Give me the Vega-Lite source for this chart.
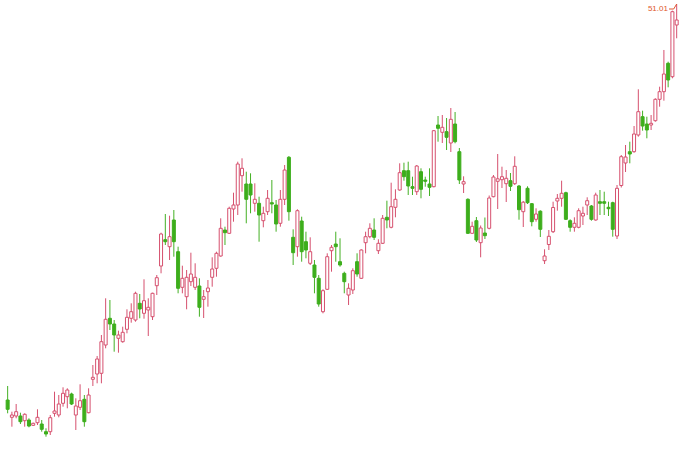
{
"$schema": "https://vega.github.io/schema/vega-lite/v6.json",
"width": 700, "height": 449, "padding": 0,
"autosize": {"type": "fit", "contains": "padding"},
"background": "white",
"config": {"view": {"stroke": null}},
"data": {"values": [
{"i":0,"o":11.41,"h":12.81,"l":10.08,"c":10.48},
{"i":1,"o":9.68,"h":10.24,"l":8.74,"c":9.91},
{"i":2,"o":9.81,"h":11.01,"l":9.58,"c":10.24},
{"i":3,"o":9.81,"h":10.14,"l":9.01,"c":9.24},
{"i":4,"o":9.34,"h":10.08,"l":8.74,"c":9.98},
{"i":5,"o":9.41,"h":9.58,"l":8.68,"c":8.81},
{"i":6,"o":8.88,"h":9.14,"l":8.81,"c":9.08},
{"i":7,"o":9.14,"h":10.48,"l":8.91,"c":9.68},
{"i":8,"o":9.01,"h":9.41,"l":8.24,"c":8.48},
{"i":9,"o":8.24,"h":8.58,"l":7.74,"c":8.01},
{"i":10,"o":8.24,"h":9.91,"l":7.91,"c":9.64},
{"i":11,"o":10.08,"h":12.24,"l":9.74,"c":10.31},
{"i":12,"o":9.91,"h":11.91,"l":9.68,"c":11.01},
{"i":13,"o":11.08,"h":12.68,"l":10.74,"c":12.08},
{"i":14,"o":11.74,"h":12.58,"l":10.58,"c":12.41},
{"i":15,"o":12.01,"h":12.14,"l":10.91,"c":11.01},
{"i":16,"o":9.91,"h":11.58,"l":8.41,"c":10.81},
{"i":17,"o":10.68,"h":12.98,"l":10.41,"c":11.34},
{"i":18,"o":11.48,"h":11.91,"l":8.74,"c":9.24},
{"i":19,"o":10.14,"h":12.58,"l":10.08,"c":11.91},
{"i":20,"o":13.48,"h":14.91,"l":12.81,"c":13.68},
{"i":21,"o":14.01,"h":15.81,"l":13.08,"c":15.51},
{"i":22,"o":14.08,"h":17.91,"l":13.08,"c":17.24},
{"i":23,"o":16.91,"h":21.58,"l":16.58,"c":19.48},
{"i":24,"o":19.58,"h":21.41,"l":18.41,"c":19.01},
{"i":25,"o":19.01,"h":19.41,"l":16.24,"c":17.91},
{"i":26,"o":17.58,"h":18.34,"l":16.14,"c":17.91},
{"i":27,"o":17.24,"h":18.74,"l":17.14,"c":18.18},
{"i":28,"o":18.48,"h":20.48,"l":18.08,"c":19.68},
{"i":29,"o":19.58,"h":21.08,"l":19.14,"c":20.24},
{"i":30,"o":19.41,"h":22.24,"l":19.24,"c":22.08},
{"i":31,"o":21.08,"h":22.01,"l":19.58,"c":20.51},
{"i":32,"o":20.08,"h":23.48,"l":19.54,"c":21.34},
{"i":33,"o":20.41,"h":21.58,"l":17.81,"c":20.68},
{"i":34,"o":19.74,"h":22.14,"l":19.41,"c":22.08},
{"i":35,"o":22.84,"h":23.91,"l":21.91,"c":23.64},
{"i":36,"o":24.81,"h":28.14,"l":24.08,"c":28.01},
{"i":37,"o":27.44,"h":30.01,"l":26.91,"c":27.24},
{"i":38,"o":26.74,"h":29.84,"l":25.41,"c":27.74},
{"i":39,"o":29.41,"h":30.41,"l":25.74,"c":27.24},
{"i":40,"o":26.24,"h":26.74,"l":22.08,"c":22.58},
{"i":41,"o":22.68,"h":24.84,"l":22.08,"c":23.58},
{"i":42,"o":21.74,"h":24.41,"l":20.48,"c":23.68},
{"i":43,"o":23.24,"h":26.14,"l":22.81,"c":24.01},
{"i":44,"o":22.68,"h":25.08,"l":22.41,"c":23.68},
{"i":45,"o":22.81,"h":23.58,"l":19.74,"c":20.68},
{"i":46,"o":21.48,"h":22.41,"l":19.61,"c":21.74},
{"i":47,"o":22.24,"h":23.41,"l":20.74,"c":22.61},
{"i":48,"o":23.68,"h":25.68,"l":22.74,"c":24.51},
{"i":49,"o":24.58,"h":26.24,"l":23.74,"c":26.08},
{"i":50,"o":25.81,"h":29.58,"l":25.74,"c":28.58},
{"i":51,"o":28.41,"h":28.74,"l":26.91,"c":28.14},
{"i":52,"o":28.08,"h":30.74,"l":28.01,"c":30.58},
{"i":53,"o":30.51,"h":32.14,"l":29.24,"c":30.91},
{"i":54,"o":30.91,"h":35.24,"l":29.91,"c":35.01},
{"i":55,"o":33.84,"h":35.58,"l":32.24,"c":34.58},
{"i":56,"o":33.01,"h":34.24,"l":29.08,"c":31.48},
{"i":57,"o":33.01,"h":34.08,"l":30.08,"c":31.91},
{"i":58,"o":31.08,"h":33.08,"l":30.24,"c":31.48},
{"i":59,"o":31.08,"h":31.74,"l":27.24,"c":29.91},
{"i":60,"o":29.34,"h":30.74,"l":28.68,"c":30.08},
{"i":61,"o":30.24,"h":32.41,"l":29.91,"c":31.58},
{"i":62,"o":31.14,"h":33.41,"l":30.08,"c":31.01},
{"i":63,"o":30.91,"h":31.41,"l":28.24,"c":29.01},
{"i":64,"o":29.08,"h":32.41,"l":28.74,"c":31.48},
{"i":65,"o":31.48,"h":34.91,"l":30.91,"c":34.41},
{"i":66,"o":35.68,"h":35.81,"l":29.34,"c":30.24},
{"i":67,"o":27.68,"h":28.48,"l":24.91,"c":26.14},
{"i":68,"o":26.74,"h":30.48,"l":25.74,"c":30.34},
{"i":69,"o":29.31,"h":29.74,"l":25.24,"c":26.24},
{"i":70,"o":27.24,"h":28.24,"l":25.58,"c":26.41},
{"i":71,"o":25.08,"h":27.68,"l":24.91,"c":26.24},
{"i":72,"o":24.91,"h":25.41,"l":22.08,"c":23.68},
{"i":73,"o":23.58,"h":23.91,"l":20.74,"c":21.01},
{"i":74,"o":20.24,"h":22.48,"l":20.08,"c":22.34},
{"i":75,"o":22.48,"h":26.08,"l":22.41,"c":25.74},
{"i":76,"o":26.34,"h":26.91,"l":24.24,"c":26.68},
{"i":77,"o":27.01,"h":28.24,"l":25.24,"c":26.74},
{"i":78,"o":25.24,"h":27.58,"l":24.74,"c":24.91},
{"i":79,"o":24.08,"h":24.24,"l":22.08,"c":23.24},
{"i":80,"o":21.91,"h":23.08,"l":20.91,"c":22.58},
{"i":81,"o":22.41,"h":24.58,"l":22.01,"c":24.34},
{"i":82,"o":25.24,"h":26.08,"l":23.74,"c":24.01},
{"i":83,"o":23.58,"h":26.48,"l":23.51,"c":26.41},
{"i":84,"o":27.14,"h":28.24,"l":26.08,"c":27.74},
{"i":85,"o":27.74,"h":29.08,"l":27.58,"c":28.58},
{"i":86,"o":28.41,"h":29.58,"l":27.41,"c":27.68},
{"i":87,"o":26.34,"h":27.48,"l":26.01,"c":27.08},
{"i":88,"o":27.08,"h":29.91,"l":27.01,"c":29.58},
{"i":89,"o":29.68,"h":31.34,"l":28.58,"c":29.41},
{"i":90,"o":28.68,"h":33.14,"l":28.58,"c":30.74},
{"i":91,"o":30.68,"h":32.48,"l":29.68,"c":31.48},
{"i":92,"o":32.41,"h":35.08,"l":32.34,"c":34.14},
{"i":93,"o":34.34,"h":35.14,"l":33.34,"c":33.74},
{"i":94,"o":34.34,"h":35.24,"l":31.91,"c":32.81},
{"i":95,"o":32.74,"h":33.74,"l":31.91,"c":32.58},
{"i":96,"o":32.24,"h":34.91,"l":31.91,"c":34.81},
{"i":97,"o":34.24,"h":34.58,"l":31.58,"c":32.48},
{"i":98,"o":33.41,"h":33.74,"l":32.74,"c":33.28},
{"i":99,"o":33.01,"h":34.58,"l":31.81,"c":32.68},
{"i":100,"o":32.74,"h":38.41,"l":32.68,"c":38.34},
{"i":101,"o":38.91,"h":39.81,"l":37.24,"c":38.58},
{"i":102,"o":38.18,"h":39.91,"l":37.11,"c":38.68},
{"i":103,"o":38.24,"h":39.61,"l":36.41,"c":37.68},
{"i":104,"o":37.11,"h":40.61,"l":36.21,"c":39.48},
{"i":105,"o":39.01,"h":40.21,"l":37.08,"c":37.24},
{"i":106,"o":36.24,"h":36.61,"l":33.01,"c":33.41},
{"i":107,"o":33.01,"h":33.78,"l":32.11,"c":33.24},
{"i":108,"o":31.48,"h":31.58,"l":28.01,"c":28.08},
{"i":109,"o":28.08,"h":29.24,"l":28.01,"c":28.78},
{"i":110,"o":29.34,"h":29.71,"l":27.21,"c":27.41},
{"i":111,"o":27.14,"h":28.86,"l":25.68,"c":28.61},
{"i":112,"o":28.11,"h":29.66,"l":27.51,"c":27.84},
{"i":113,"o":28.58,"h":31.86,"l":28.48,"c":31.61},
{"i":114,"o":31.74,"h":33.91,"l":31.68,"c":33.71},
{"i":115,"o":33.28,"h":36.01,"l":30.51,"c":33.53},
{"i":116,"o":33.44,"h":34.74,"l":32.61,"c":33.74},
{"i":117,"o":33.04,"h":34.41,"l":31.21,"c":33.58},
{"i":118,"o":33.34,"h":34.11,"l":32.31,"c":32.78},
{"i":119,"o":33.04,"h":35.78,"l":32.91,"c":34.78},
{"i":120,"o":32.81,"h":32.91,"l":29.44,"c":30.44},
{"i":121,"o":30.24,"h":31.31,"l":28.71,"c":31.19},
{"i":122,"o":32.58,"h":32.78,"l":31.01,"c":31.14},
{"i":123,"o":31.04,"h":31.11,"l":28.78,"c":29.24},
{"i":124,"o":29.48,"h":30.58,"l":29.24,"c":30.01},
{"i":125,"o":30.29,"h":30.38,"l":27.71,"c":28.48},
{"i":126,"o":25.34,"h":26.48,"l":25.01,"c":25.81},
{"i":127,"o":26.96,"h":28.41,"l":26.41,"c":27.78},
{"i":128,"o":28.24,"h":31.24,"l":28.11,"c":30.66},
{"i":129,"o":31.31,"h":32.01,"l":30.34,"c":31.58},
{"i":130,"o":31.58,"h":33.34,"l":30.74,"c":32.08},
{"i":131,"o":32.14,"h":32.24,"l":29.41,"c":29.48},
{"i":132,"o":29.34,"h":29.48,"l":28.24,"c":28.68},
{"i":133,"o":28.68,"h":29.68,"l":28.24,"c":29.08},
{"i":134,"o":28.68,"h":30.58,"l":28.58,"c":30.34},
{"i":135,"o":29.81,"h":30.74,"l":28.91,"c":30.08},
{"i":136,"o":30.91,"h":31.68,"l":29.91,"c":31.34},
{"i":137,"o":30.81,"h":30.91,"l":29.34,"c":29.48},
{"i":138,"o":29.41,"h":32.14,"l":29.34,"c":31.91},
{"i":139,"o":31.24,"h":32.41,"l":29.91,"c":31.08},
{"i":140,"o":31.24,"h":32.24,"l":29.91,"c":31.08},
{"i":141,"o":30.68,"h":31.24,"l":29.81,"c":30.54},
{"i":142,"o":31.14,"h":31.24,"l":27.74,"c":28.48},
{"i":143,"o":27.81,"h":32.91,"l":27.51,"c":32.58},
{"i":144,"o":32.86,"h":35.91,"l":32.66,"c":35.74},
{"i":145,"o":35.11,"h":36.91,"l":34.21,"c":35.71},
{"i":146,"o":36.24,"h":37.24,"l":35.08,"c":36.01},
{"i":147,"o":36.24,"h":38.81,"l":36.14,"c":38.01},
{"i":148,"o":37.91,"h":42.48,"l":37.74,"c":40.24},
{"i":149,"o":39.74,"h":40.34,"l":38.34,"c":38.81},
{"i":150,"o":39.01,"h":39.74,"l":37.58,"c":38.41},
{"i":151,"o":38.91,"h":39.91,"l":38.41,"c":39.08},
{"i":152,"o":39.34,"h":41.58,"l":39.24,"c":41.48},
{"i":153,"o":41.48,"h":42.74,"l":40.74,"c":42.24},
{"i":154,"o":42.24,"h":46.41,"l":41.34,"c":44.01},
{"i":155,"o":45.08,"h":45.24,"l":42.68,"c":43.41},
{"i":156,"o":43.74,"h":50.34,"l":43.58,"c":50.24},
{"i":157,"o":48.91,"h":51.01,"l":47.58,"c":49.41}
]},
"layer": [
{"mark": {"type": "rule", "strokeWidth": 1},
 "encoding": {
  "x": {"field": "i", "type": "quantitative", "scale": {"domain": [-0.62, 161.3], "nice": false, "zero": false}, "axis": null},
  "y": {"field": "l", "type": "quantitative", "scale": {"domain": [6.51, 51.41], "nice": false, "zero": false}, "axis": null},
  "y2": {"field": "h"},
  "color": {"condition": {"test": "datum.c >= datum.o", "value": "#d6506e"}, "value": "#44b024"}
 }},
{"mark": {"type": "bar", "width": 3, "strokeWidth": 1},
 "encoding": {
  "x": {"field": "i", "type": "quantitative"},
  "y": {"field": "o", "type": "quantitative"},
  "y2": {"field": "c"},
  "fill": {"condition": {"test": "datum.c >= datum.o", "value": "#ffffff"}, "value": "#3dae1c"},
  "stroke": {"condition": {"test": "datum.c >= datum.o", "value": "#d6506e"}, "value": "#3dae1c"}
 }},
{"data": {"values": [{"i": 152.6, "p": 50.51, "t": "51.01"}]},
 "mark": {"type": "text", "font": "Liberation Sans", "fontSize": 8, "color": "#e0562c", "align": "center", "baseline": "middle"},
 "encoding": {
  "x": {"field": "i", "type": "quantitative"},
  "y": {"field": "p", "type": "quantitative"},
  "text": {"field": "t"}
 }},
{"data": {"values": [{"i": 155.2, "p": 50.51, "k": 0}, {"i": 156.3, "p": 50.51, "k": 1}, {"i": 157, "p": 51.01, "k": 2}]},
 "mark": {"type": "line", "color": "#e0562c", "strokeWidth": 1},
 "encoding": {
  "x": {"field": "i", "type": "quantitative"},
  "y": {"field": "p", "type": "quantitative"},
  "order": {"field": "k"}
 }}
]
}
